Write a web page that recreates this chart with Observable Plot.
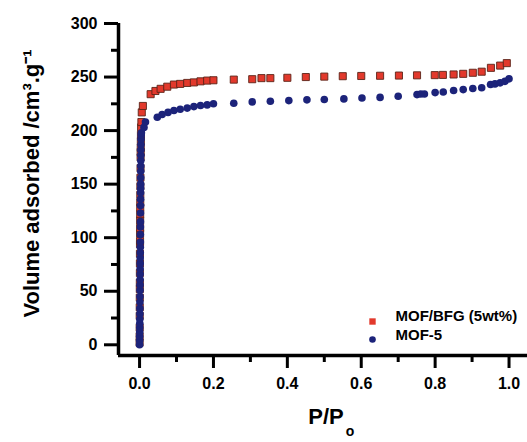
<!DOCTYPE html>
<html>
<head>
<meta charset="utf-8">
<script src="https://cdn.jsdelivr.net/npm/d3@7"></script>
<script src="https://cdn.jsdelivr.net/npm/@observablehq/plot@0.6"></script>
<style>
  html, body { margin: 0; padding: 0; background: #fff; }
  #chart g[aria-label$="tick"] { stroke-width: 3px; stroke: #000; }
  #chart g[aria-label="rule"] { stroke-width: 3.5px; stroke: #000; }
</style>
</head>
<body>
<div id="chart"></div>
<script>
// MOF/BFG (5wt%) — relative pressure and volume adsorbed
const redP = [0.0001, 0.0002, 0.0003, 0.0004, 0.0005, 0.0006, 0.0007, 0.0008, 0.0009, 0.001, 0.0011, 0.0012, 0.0013, 0.0014, 0.0015, 0.0016, 0.0017, 0.0018, 0.0019, 0.002, 0.0022, 0.0024, 0.0026, 0.0028, 0.003, 0.0032, 0.0035, 0.0038, 0.0042,
  0.005, 0.006, 0.009, 0.03, 0.043, 0.057, 0.075, 0.093, 0.11, 0.129, 0.147, 0.165, 0.183, 0.2, 0.255, 0.305, 0.33, 0.354, 0.40, 0.45, 0.5, 0.55, 0.6, 0.651, 0.702, 0.751, 0.799, 0.821, 0.85, 0.876, 0.902, 0.926, 0.951, 0.976, 0.994];
const redV = [2, 8, 16, 27, 35, 44, 52, 58, 67, 76, 85, 94, 97, 104, 109, 116, 122, 128, 133, 140, 148, 156, 165, 175, 180, 184, 190, 196, 203,
  208, 217, 223, 234, 237, 239, 241, 243, 243.6, 244.5, 245, 246, 246.7, 247, 247.6, 248, 249, 249, 249.3, 250, 250.4, 250.8, 251, 251.2, 251.4, 251.6, 251.8, 252, 252.4, 253, 254, 255, 258.6, 260.7, 263];

// MOF-5
const blueP = [0.0001, 0.0002, 0.0003, 0.0004, 0.0005, 0.0006, 0.0007, 0.0008, 0.0009, 0.001, 0.0011, 0.0012, 0.0013, 0.0014, 0.0015, 0.0016, 0.0017, 0.0018, 0.0019, 0.002, 0.0021, 0.0022, 0.0023, 0.0024, 0.0025, 0.0026, 0.0027, 0.0028, 0.0029, 0.003, 0.0031, 0.0032, 0.0033, 0.0034, 0.0035, 0.0036, 0.0038, 0.004, 0.0044,
  0.005, 0.012, 0.016, 0.048, 0.061, 0.077, 0.093, 0.11, 0.129, 0.147, 0.165, 0.183, 0.2, 0.255, 0.305, 0.354, 0.404, 0.453, 0.5, 0.553, 0.602, 0.651, 0.7, 0.751, 0.761, 0.771, 0.8, 0.822, 0.85, 0.876, 0.902, 0.926, 0.95, 0.962, 0.976, 0.989, 1.0];
const blueV = [0, 4, 8, 12, 16, 20, 24, 29, 34, 40, 45, 51, 56, 61, 66, 71, 76, 81, 86, 91, 96, 103, 110, 115, 123, 130, 136, 142, 146, 150, 156, 162, 167, 172, 177, 182, 187, 192, 196,
  198, 203, 208, 212.5, 215, 217, 218.7, 220, 221, 222.4, 223.4, 224, 225, 225.5, 226.8, 227.4, 228, 228.7, 229, 229.6, 230.4, 231, 232.1, 233.6, 234.2, 234.2, 235.5, 236.1, 237.4, 238.3, 239.3, 240, 243, 243.6, 244.6, 246, 248.3];

const seriesNames = ["MOF/BFG (5wt%)", "MOF-5"];
const xMajor = [0, 0.2, 0.4, 0.6, 0.8, 1.0];
const xMinor = [0.1, 0.3, 0.5, 0.7, 0.9];
const yMajor = [0, 50, 100, 150, 200, 250, 300];
const yMinor = [25, 75, 125, 175, 225, 275];
const yTitle = "Volume adsorbed /cm³.g⁻¹";
const xTitle = "P/P";
const xTitleSub = "o";

const red = redP.map((p, i) => ({p, v: redV[i]}));
const blue = blueP.map((p, i) => ({p, v: blueV[i]}));

const RED = "#e2392c", RED_EDGE = "#5b2418", BLUE = "#1c237a";
const font = "'Liberation Sans', Arial, Helvetica, sans-serif";

const chart = Plot.plot({
  width: 527,
  height: 442,
  marginLeft: 118,
  marginRight: 0,
  marginTop: 23,
  marginBottom: 87,
  style: {fontFamily: font, background: "white", color: "black"},
  x: {domain: [-0.057, 1.05], label: null},
  y: {domain: [-10, 300], label: null},
  marks: [
    // axis lines
    Plot.ruleY([-10], {stroke: "black", strokeWidth: 3.5}),
    Plot.ruleX([-0.057], {stroke: "black", strokeWidth: 3.5}),
    // x axis
    Plot.axisX(xMajor, {tickSize: 13, tickPadding: 9, stroke: "black", strokeWidth: 3, fontSize: 16, fontWeight: "bold", tickFormat: d3.format(".1f"), label: null}),
    Plot.axisX(xMinor, {tickSize: 7, stroke: "black", strokeWidth: 3, tickFormat: () => "", label: null}),
    // y axis
    Plot.axisY(yMajor, {tickSize: 14, tickPadding: 7, stroke: "black", strokeWidth: 3, fontSize: 16, fontWeight: "bold", label: null}),
    Plot.axisY(yMinor, {tickSize: 7, stroke: "black", strokeWidth: 3, tickFormat: () => "", label: null}),
    // data
    Plot.dot(red, {x: "p", y: "v", symbol: "square", r: 4, fill: RED, stroke: RED_EDGE, strokeWidth: 0.9}),
    Plot.dot(blue, {x: "p", y: "v", symbol: "circle", r: 3.8, fill: BLUE}),
    // legend
    Plot.dot([seriesNames[0]], {frameAnchor: "bottom-right", dx: -155, dy: -34, symbol: "square", r: 3.6, fill: RED}),
    Plot.dot([seriesNames[1]], {frameAnchor: "bottom-right", dx: -155, dy: -16, symbol: "circle", r: 3.3, fill: BLUE}),
    Plot.text([seriesNames[0]], {text: d => d, frameAnchor: "bottom-right", textAnchor: "start", dx: -132, dy: -35, fontSize: 15, fontWeight: "bold", fill: "black"}),
    Plot.text([seriesNames[1]], {text: d => d, frameAnchor: "bottom-right", textAnchor: "start", dx: -132, dy: -16, fontSize: 15, fontWeight: "bold", fill: "black"}),
    // titles
    Plot.text([yTitle], {text: d => d, frameAnchor: "left", textAnchor: "middle", rotate: -90, dx: -87, dy: -6, fontSize: 22, fontWeight: "bold", fill: "black"}),
    Plot.text([xTitle], {text: d => d, frameAnchor: "bottom", textAnchor: "middle", dx: 3, dy: 68, fontSize: 22, fontWeight: "bold", fill: "black"}),
    Plot.text([xTitleSub], {text: d => d, frameAnchor: "bottom", textAnchor: "middle", dx: 27, dy: 80, fontSize: 14, fontWeight: "bold", fill: "black"})
  ]
});
document.getElementById("chart").appendChild(chart);
</script>
</body>
</html>
